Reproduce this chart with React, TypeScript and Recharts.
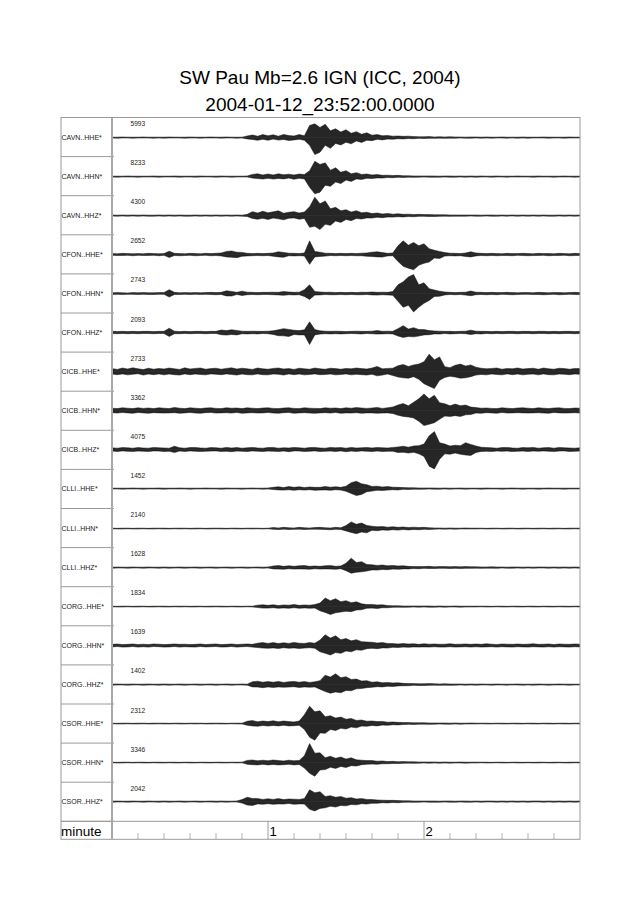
import React from 'react';
import { ComposedChart, Area, XAxis, YAxis, ReferenceLine } from 'recharts';

// sample times (seconds after 23:52:00)
const TIMES = [
  0, 2, 4, 6, 8, 10, 12, 14, 16, 18,
  20, 22, 24, 26, 28, 30, 32, 34, 36, 38,
  40, 42, 44, 46, 48, 50, 52, 54, 56, 58,
  60, 62, 64, 66, 68, 70, 72, 74, 76, 78,
  80, 82, 84, 86, 88, 90, 92, 94, 96, 98,
  100, 102, 104, 106, 108, 110, 112, 114, 116, 118,
  120, 122, 124, 126, 128, 130, 132, 134, 136, 138,
  140, 142, 144, 146, 148, 150, 152, 154, 156, 158,
  160, 162, 164, 166, 168, 170, 172, 174, 176, 178,
  180,
];

const STATIONS = [
  'CAVN..HHE*', 'CAVN..HHN*', 'CAVN..HHZ*',
  'CFON..HHE*', 'CFON..HHN*', 'CFON..HHZ*',
  'CICB..HHE*', 'CICB..HHN*', 'CICB..HHZ*',
  'CLLI..HHE*', 'CLLI..HHN*', 'CLLI..HHZ*',
  'CORG..HHE*', 'CORG..HHN*', 'CORG..HHZ*',
  'CSOR..HHE*', 'CSOR..HHN*', 'CSOR..HHZ*',
];

const PEAK_COUNTS = [
  '5993', '8233', '4300',
  '2652', '2743', '2093',
  '2733', '3362', '4075',
  '1452', '2140', '1628',
  '1834', '1639', '1402',
  '2312', '3346', '2042',
];

// upper (UP) and lower (DN) envelope of each trace, percent of half trace height
const CAVN_HHE_UP = [
  2, 2, 3, 2, 2, 2, 3, 2, 2, 2,
  2, 3, 2, 2, 2, 3, 2, 2, 2, 3,
  2, 2, 3, 2, 2, 2, 8, 13, 7, 15,
  9, 14, 7, 16, 10, 8, 15, 9, 62, 70,
  52, 68, 35, 45, 28, 40, 22, 30, 17, 24,
  12, 15, 9, 11, 7, 8, 6, 7, 5, 4,
  4, 5, 3, 4, 3, 4, 3, 3, 2, 3,
  3, 2, 3, 2, 2, 3, 2, 2, 2, 3,
  2, 2, 2, 3, 2, 2, 2, 2, 3, 2,
  2,
];
const CAVN_HHE_DN = [
  2, 3, 2, 2, 3, 2, 2, 2, 3, 2,
  3, 2, 2, 2, 3, 2, 2, 3, 2, 2,
  2, 3, 2, 2, 3, 2, 7, 10, 14, 9,
  14, 8, 13, 10, 15, 12, 9, 14, 40, 87,
  75, 40, 55, 30, 38, 24, 32, 18, 25, 14,
  16, 9, 12, 8, 9, 6, 7, 5, 6, 4,
  5, 4, 4, 3, 4, 3, 3, 2, 3, 3,
  2, 3, 2, 3, 2, 2, 3, 2, 3, 2,
  3, 2, 2, 2, 3, 2, 2, 3, 2, 2,
  2,
];
const CAVN_HHN_UP = [
  2, 2, 2, 3, 2, 2, 2, 2, 3, 2,
  2, 2, 3, 2, 2, 2, 2, 3, 2, 2,
  2, 3, 2, 2, 2, 2, 3, 11, 14, 8,
  13, 8, 14, 9, 12, 8, 13, 10, 30, 78,
  62, 70, 32, 45, 22, 30, 14, 20, 11, 13,
  8, 10, 6, 7, 5, 6, 4, 4, 3, 3,
  3, 3, 3, 2, 3, 3, 2, 3, 2, 3,
  2, 3, 2, 2, 3, 2, 2, 2, 3, 2,
  2, 2, 3, 2, 2, 2, 2, 3, 2, 2,
  2,
];
const CAVN_HHN_DN = [
  2, 3, 2, 2, 2, 3, 2, 2, 2, 3,
  2, 2, 2, 3, 2, 2, 3, 2, 2, 2,
  3, 2, 2, 3, 2, 2, 2, 8, 10, 13,
  9, 13, 10, 12, 8, 14, 9, 12, 55, 88,
  80, 45, 50, 28, 36, 18, 25, 12, 15, 9,
  10, 7, 8, 5, 6, 4, 5, 3, 4, 3,
  2, 3, 3, 3, 2, 3, 3, 2, 3, 2,
  3, 2, 2, 3, 2, 2, 3, 2, 2, 2,
  2, 3, 2, 2, 2, 3, 2, 2, 2, 3,
  2,
];
const CAVN_HHZ_UP = [
  3, 2, 3, 2, 3, 2, 3, 2, 2, 3,
  2, 3, 2, 3, 2, 2, 3, 2, 3, 2,
  3, 2, 3, 2, 3, 2, 6, 20, 13, 22,
  14, 19, 24, 12, 17, 20, 13, 18, 45, 94,
  60, 75, 35, 42, 24, 30, 18, 25, 14, 17,
  10, 13, 8, 11, 7, 9, 6, 7, 5, 6,
  5, 5, 4, 4, 4, 3, 3, 3, 3, 3,
  3, 2, 3, 3, 2, 3, 2, 3, 2, 3,
  2, 3, 2, 3, 2, 2, 3, 2, 3, 2,
  3,
];
const CAVN_HHZ_DN = [
  2, 3, 2, 3, 2, 3, 2, 3, 3, 2,
  3, 2, 3, 2, 3, 3, 2, 3, 2, 3,
  2, 3, 2, 3, 2, 3, 5, 15, 19, 14,
  20, 13, 17, 22, 14, 12, 19, 15, 60, 55,
  72, 45, 50, 28, 35, 20, 26, 15, 18, 12,
  13, 9, 11, 8, 8, 6, 7, 5, 6, 4,
  4, 5, 5, 4, 3, 4, 3, 3, 3, 2,
  3, 3, 2, 3, 3, 2, 3, 2, 3, 2,
  3, 2, 3, 2, 3, 3, 2, 3, 2, 3,
  2,
];
const CFON_HHE_UP = [
  5, 4, 6, 5, 4, 5, 4, 6, 5, 4,
  5, 17, 6, 5, 4, 6, 5, 4, 6, 5,
  6, 8, 16, 18, 12, 11, 6, 5, 6, 5,
  6, 8, 14, 11, 7, 6, 5, 8, 70, 16,
  12, 7, 6, 5, 6, 5, 6, 5, 7, 8,
  12, 14, 10, 6, 8, 45, 70, 48, 62, 45,
  55, 30, 22, 16, 10, 7, 6, 5, 8, 14,
  8, 6, 5, 6, 5, 4, 6, 5, 5, 6,
  5, 4, 6, 5, 5, 4, 6, 5, 4, 6,
  5,
];
const CFON_HHE_DN = [
  4, 5, 5, 4, 6, 4, 5, 5, 4, 6,
  4, 15, 5, 6, 5, 4, 6, 5, 4, 6,
  5, 7, 12, 14, 16, 9, 7, 6, 5, 6,
  5, 9, 12, 14, 6, 7, 6, 7, 50, 12,
  10, 8, 5, 6, 5, 6, 5, 6, 6, 9,
  10, 12, 13, 7, 6, 35, 60, 70, 78, 55,
  45, 38, 18, 20, 8, 6, 7, 6, 10, 12,
  7, 5, 6, 5, 6, 5, 5, 6, 4, 5,
  6, 5, 5, 4, 6, 5, 5, 4, 6, 5,
  5,
];
const CFON_HHN_UP = [
  4, 5, 4, 3, 5, 4, 5, 4, 4, 5,
  5, 20, 6, 4, 5, 4, 5, 4, 5, 6,
  5, 6, 14, 11, 6, 12, 7, 6, 5, 6,
  6, 7, 6, 10, 8, 6, 7, 20, 45, 10,
  8, 6, 7, 5, 6, 5, 6, 5, 7, 6,
  8, 6, 7, 6, 10, 45, 60, 85, 97, 45,
  55, 25, 18, 12, 8, 6, 5, 6, 7, 13,
  7, 6, 5, 6, 5, 5, 6, 5, 4, 5,
  5, 4, 6, 5, 4, 5, 5, 4, 5, 6,
  5,
];
const CFON_HHN_DN = [
  5, 4, 5, 4, 4, 5, 4, 5, 5, 4,
  4, 18, 5, 5, 4, 5, 4, 5, 4, 5,
  6, 5, 12, 13, 5, 10, 6, 5, 6, 5,
  5, 6, 7, 9, 6, 7, 6, 15, 30, 8,
  7, 5, 6, 6, 5, 6, 5, 6, 6, 5,
  7, 8, 6, 7, 9, 40, 70, 60, 94, 70,
  50, 35, 15, 14, 7, 5, 6, 5, 8, 11,
  6, 5, 6, 5, 6, 4, 5, 6, 5, 4,
  4, 5, 5, 6, 5, 4, 6, 5, 4, 5,
  5,
];
const CFON_HHZ_UP = [
  6, 5, 6, 5, 6, 5, 6, 6, 5, 6,
  6, 22, 7, 5, 6, 5, 6, 6, 5, 6,
  6, 13, 10, 14, 11, 7, 6, 7, 6, 6,
  7, 9, 14, 20, 16, 12, 10, 14, 55, 15,
  9, 7, 6, 7, 6, 5, 6, 7, 6, 6,
  7, 10, 6, 7, 6, 20, 35, 18, 25, 16,
  15, 10, 8, 7, 6, 6, 5, 6, 7, 12,
  7, 6, 6, 5, 6, 5, 6, 6, 5, 6,
  6, 5, 6, 6, 5, 6, 5, 6, 6, 5,
  6,
];
const CFON_HHZ_DN = [
  5, 6, 5, 6, 5, 6, 5, 5, 6, 5,
  5, 20, 6, 6, 5, 6, 5, 5, 6, 5,
  5, 11, 13, 10, 12, 6, 7, 6, 7, 5,
  6, 10, 16, 17, 20, 10, 12, 12, 61, 12,
  8, 6, 7, 6, 7, 6, 5, 6, 7, 5,
  6, 8, 7, 6, 7, 18, 25, 20, 22, 18,
  12, 11, 7, 8, 5, 7, 6, 5, 6, 10,
  6, 7, 5, 6, 5, 6, 5, 5, 6, 5,
  5, 6, 5, 5, 6, 5, 6, 5, 5, 6,
  5,
];
const CICB_HHE_UP = [
  15, 11, 18, 13, 19, 14, 10, 17, 12, 16,
  13, 18, 14, 11, 19, 13, 16, 18, 12, 15,
  17, 12, 16, 19, 13, 17, 14, 11, 18, 14,
  12, 16, 18, 13, 15, 11, 17, 14, 12, 18,
  14, 12, 17, 15, 12, 16, 14, 18, 15, 13,
  18, 26, 14, 16, 17, 30, 36, 26, 34, 38,
  50, 89, 60, 75, 25, 20, 32, 38, 28, 34,
  22, 17, 14, 16, 18, 12, 16, 14, 18, 13,
  15, 17, 12, 18, 14, 12, 17, 15, 12, 16,
  15,
];
const CICB_HHE_DN = [
  13, 16, 12, 17, 14, 11, 18, 13, 16, 12,
  17, 13, 16, 18, 12, 16, 13, 15, 17, 12,
  14, 16, 12, 15, 18, 13, 16, 17, 12, 16,
  17, 13, 14, 18, 12, 16, 13, 17, 15, 12,
  16, 15, 13, 17, 15, 12, 17, 14, 16, 18,
  14, 22, 18, 13, 20, 28, 32, 34, 26, 40,
  62, 75, 87, 45, 30, 24, 28, 34, 32, 26,
  18, 15, 17, 13, 15, 17, 12, 16, 13, 17,
  14, 13, 17, 12, 16, 17, 13, 14, 16, 13,
  14,
];
const CICB_HHN_UP = [
  12, 10, 14, 12, 10, 14, 11, 13, 10, 14,
  12, 10, 16, 12, 10, 14, 12, 10, 13, 14,
  11, 10, 14, 12, 13, 10, 14, 12, 10, 13,
  14, 11, 10, 13, 14, 11, 10, 14, 12, 11,
  10, 14, 12, 13, 10, 14, 12, 15, 13, 11,
  13, 16, 11, 14, 18, 28, 36, 24, 42, 60,
  85, 60, 78, 40, 35, 24, 33, 25, 28, 18,
  15, 12, 13, 11, 10, 14, 12, 10, 13, 14,
  12, 10, 14, 12, 10, 13, 14, 11, 10, 13,
  12,
];
const CICB_HHN_DN = [
  11, 13, 10, 12, 14, 10, 12, 14, 11, 12,
  13, 12, 11, 14, 12, 10, 13, 14, 11, 10,
  13, 12, 11, 13, 10, 14, 12, 11, 13, 12,
  10, 13, 14, 11, 10, 14, 12, 11, 13, 14,
  12, 11, 13, 10, 14, 12, 13, 11, 14, 12,
  12, 14, 13, 12, 15, 24, 30, 33, 38, 55,
  77, 70, 62, 45, 28, 30, 26, 30, 22, 20,
  13, 14, 11, 12, 14, 10, 13, 12, 11, 12,
  13, 12, 11, 13, 14, 10, 12, 13, 12, 11,
  13,
];
const CICB_HHZ_UP = [
  9, 7, 10, 9, 7, 10, 8, 7, 11, 9,
  8, 7, 17, 9, 7, 10, 11, 8, 7, 10,
  9, 7, 11, 8, 10, 7, 9, 11, 8, 7,
  10, 11, 7, 9, 8, 11, 9, 7, 10, 11,
  8, 7, 11, 9, 10, 7, 11, 8, 9, 11,
  8, 11, 9, 8, 11, 13, 17, 12, 18, 20,
  28, 70, 92, 35, 28, 18, 22, 20, 35, 26,
  18, 12, 10, 9, 7, 10, 11, 8, 7, 10,
  9, 11, 7, 9, 10, 7, 11, 9, 8, 7,
  9,
];
const CICB_HHZ_DN = [
  8, 10, 7, 9, 10, 8, 9, 10, 7, 8,
  10, 9, 15, 8, 10, 7, 9, 10, 9, 8,
  7, 10, 9, 11, 8, 9, 10, 7, 9, 10,
  8, 9, 10, 8, 11, 7, 8, 10, 9, 7,
  10, 9, 8, 10, 7, 11, 8, 10, 7, 9,
  10, 8, 10, 9, 9, 15, 14, 18, 14, 22,
  35, 85, 99, 50, 22, 24, 18, 24, 28, 30,
  15, 10, 9, 10, 8, 9, 8, 10, 9, 8,
  10, 8, 9, 7, 9, 10, 8, 7, 10, 9,
  8,
];
const CLLI_HHE_UP = [
  2, 2, 2, 2, 3, 2, 2, 2, 2, 3,
  2, 2, 2, 3, 2, 2, 2, 2, 3, 2,
  2, 2, 3, 2, 2, 2, 2, 3, 2, 2,
  3, 6, 9, 5, 10, 6, 9, 5, 8, 6,
  6, 10, 7, 9, 6, 12, 30, 37, 24, 20,
  11, 12, 8, 10, 7, 6, 5, 4, 4, 3,
  3, 3, 3, 2, 3, 2, 2, 3, 2, 2,
  2, 2, 3, 2, 2, 2, 2, 3, 2, 2,
  2, 2, 2, 2, 3, 2, 2, 2, 2, 2,
  2,
];
const CLLI_HHE_DN = [
  2, 2, 3, 2, 2, 2, 3, 2, 2, 2,
  3, 2, 2, 2, 2, 3, 2, 2, 2, 2,
  2, 3, 2, 2, 2, 3, 2, 2, 2, 3,
  2, 5, 7, 8, 6, 9, 6, 8, 6, 9,
  8, 7, 9, 6, 8, 14, 25, 36, 30, 16,
  13, 9, 10, 8, 6, 7, 4, 5, 3, 4,
  3, 2, 3, 3, 2, 3, 2, 2, 3, 2,
  2, 3, 2, 2, 2, 3, 2, 2, 2, 3,
  2, 2, 3, 2, 2, 2, 2, 3, 2, 2,
  2,
];
const CLLI_HHN_UP = [
  2, 1, 2, 2, 1, 2, 2, 1, 2, 2,
  2, 1, 2, 2, 2, 1, 2, 2, 1, 2,
  2, 2, 1, 2, 2, 1, 2, 2, 2, 1,
  2, 5, 3, 6, 4, 3, 6, 4, 3, 5,
  6, 4, 3, 6, 4, 15, 34, 22, 28, 16,
  12, 9, 10, 7, 9, 6, 8, 5, 7, 5,
  6, 4, 3, 3, 2, 3, 2, 2, 3, 2,
  2, 2, 1, 2, 2, 1, 2, 2, 1, 2,
  2, 1, 2, 2, 1, 2, 2, 1, 2, 2,
  2,
];
const CLLI_HHN_DN = [
  1, 2, 2, 1, 2, 2, 1, 2, 2, 1,
  2, 2, 1, 2, 1, 2, 2, 1, 2, 2,
  1, 2, 2, 1, 2, 2, 1, 2, 1, 2,
  1, 4, 5, 3, 5, 4, 3, 5, 4, 3,
  4, 5, 6, 4, 5, 12, 20, 26, 18, 22,
  9, 11, 7, 9, 6, 8, 5, 7, 5, 6,
  4, 5, 3, 2, 3, 2, 3, 2, 2, 2,
  2, 1, 2, 2, 1, 2, 2, 1, 2, 2,
  1, 2, 2, 1, 2, 2, 1, 2, 2, 1,
  2,
];
const CLLI_HHZ_UP = [
  2, 3, 2, 2, 3, 2, 2, 3, 2, 2,
  3, 2, 2, 3, 2, 2, 3, 2, 2, 3,
  2, 2, 3, 2, 2, 3, 2, 2, 3, 2,
  3, 8, 10, 6, 9, 6, 9, 10, 6, 8,
  6, 9, 10, 6, 8, 22, 48, 26, 30, 16,
  14, 11, 13, 9, 11, 8, 9, 6, 5, 5,
  5, 6, 4, 5, 5, 4, 5, 4, 5, 4,
  4, 3, 3, 4, 3, 3, 2, 3, 3, 2,
  3, 2, 3, 3, 2, 3, 2, 3, 2, 3,
  2,
];
const CLLI_HHZ_DN = [
  3, 2, 2, 3, 2, 2, 3, 2, 2, 3,
  2, 3, 2, 2, 3, 2, 2, 3, 2, 2,
  3, 2, 2, 3, 2, 2, 3, 2, 2, 3,
  2, 7, 8, 9, 6, 8, 7, 8, 9, 6,
  8, 7, 8, 9, 6, 16, 29, 24, 22, 18,
  12, 13, 10, 11, 8, 9, 7, 7, 5, 6,
  4, 5, 5, 4, 4, 5, 4, 5, 4, 4,
  3, 4, 3, 3, 4, 2, 3, 3, 2, 3,
  2, 3, 2, 2, 3, 2, 3, 2, 3, 2,
  3,
];
const CORG_HHE_UP = [
  2, 1, 2, 2, 1, 2, 2, 1, 2, 2,
  2, 1, 2, 2, 2, 1, 2, 2, 1, 2,
  2, 2, 1, 2, 2, 1, 2, 2, 7, 9,
  6, 9, 5, 8, 7, 10, 6, 8, 7, 10,
  18, 44, 30, 40, 25, 30, 20, 24, 14, 10,
  11, 8, 9, 5, 4, 4, 3, 3, 3, 3,
  3, 3, 2, 3, 2, 2, 3, 2, 2, 2,
  2, 2, 2, 1, 2, 2, 1, 2, 2, 1,
  2, 2, 1, 2, 2, 1, 2, 2, 1, 2,
  2,
];
const CORG_HHE_DN = [
  1, 2, 2, 1, 2, 2, 1, 2, 2, 1,
  2, 2, 1, 2, 1, 2, 2, 1, 2, 2,
  1, 2, 2, 1, 2, 2, 1, 2, 5, 8,
  8, 6, 9, 7, 9, 6, 9, 7, 9, 8,
  22, 30, 41, 32, 28, 24, 26, 18, 16, 9,
  8, 10, 6, 6, 4, 3, 4, 3, 2, 3,
  2, 3, 3, 2, 3, 2, 2, 3, 2, 2,
  2, 1, 2, 2, 1, 2, 2, 1, 2, 2,
  1, 2, 2, 1, 2, 2, 1, 2, 2, 1,
  2,
];
const CORG_HHN_UP = [
  6, 8, 5, 6, 8, 5, 7, 5, 8, 7,
  5, 6, 8, 6, 7, 5, 6, 8, 5, 7,
  8, 5, 6, 8, 5, 7, 8, 6, 12, 15,
  11, 15, 10, 14, 11, 16, 12, 11, 15, 12,
  28, 55, 38, 50, 30, 36, 24, 30, 20, 18,
  17, 13, 15, 11, 10, 8, 10, 8, 9, 6,
  9, 7, 8, 6, 7, 9, 6, 7, 8, 6,
  8, 6, 9, 7, 5, 8, 7, 6, 8, 6,
  7, 9, 6, 7, 8, 5, 8, 7, 6, 8,
  7,
];
const CORG_HHN_DN = [
  7, 5, 8, 7, 5, 8, 6, 8, 5, 6,
  8, 7, 5, 8, 6, 7, 8, 5, 7, 6,
  5, 8, 7, 5, 8, 6, 5, 8, 10, 13,
  14, 12, 15, 11, 14, 12, 15, 13, 11, 14,
  32, 40, 48, 36, 40, 28, 32, 22, 24, 16,
  14, 16, 12, 13, 9, 10, 8, 9, 7, 8,
  7, 8, 6, 8, 8, 6, 8, 7, 6, 8,
  6, 8, 7, 6, 8, 6, 7, 8, 6, 7,
  8, 6, 7, 8, 6, 8, 6, 7, 8, 6,
  7,
];
const CORG_HHZ_UP = [
  2, 3, 2, 2, 3, 2, 2, 3, 2, 2,
  3, 2, 2, 3, 2, 2, 3, 2, 2, 3,
  2, 2, 3, 2, 2, 3, 2, 14, 17, 12,
  15, 12, 16, 11, 14, 16, 12, 15, 11, 14,
  20, 48, 38, 55, 35, 40, 26, 28, 18, 20,
  12, 14, 9, 11, 8, 9, 6, 5, 5, 4,
  4, 5, 4, 3, 4, 3, 3, 3, 2, 3,
  2, 3, 2, 2, 3, 2, 2, 2, 3, 2,
  2, 2, 3, 2, 2, 2, 3, 2, 2, 2,
  2,
];
const CORG_HHZ_DN = [
  3, 2, 2, 3, 2, 2, 3, 2, 2, 3,
  2, 3, 2, 2, 3, 2, 2, 3, 2, 2,
  3, 2, 2, 3, 2, 2, 3, 12, 13, 16,
  12, 15, 12, 14, 13, 11, 15, 12, 14, 12,
  24, 36, 44, 38, 42, 30, 32, 22, 20, 16,
  14, 11, 12, 9, 10, 7, 6, 6, 4, 5,
  5, 4, 3, 4, 3, 4, 3, 2, 3, 2,
  3, 2, 2, 3, 2, 2, 3, 2, 2, 3,
  2, 3, 2, 2, 3, 2, 2, 2, 3, 2,
  2,
];
const CSOR_HHE_UP = [
  2, 1, 2, 2, 1, 2, 2, 1, 2, 2,
  2, 1, 2, 2, 1, 2, 2, 2, 1, 2,
  2, 2, 1, 2, 2, 2, 12, 15, 9, 13,
  10, 14, 9, 13, 10, 8, 13, 45, 89, 60,
  65, 35, 40, 28, 33, 22, 26, 16, 18, 12,
  13, 10, 11, 7, 8, 6, 5, 5, 4, 4,
  4, 3, 3, 3, 3, 2, 3, 2, 2, 3,
  2, 2, 2, 1, 2, 2, 1, 2, 2, 1,
  2, 2, 1, 2, 2, 1, 2, 2, 1, 2,
  2,
];
const CSOR_HHE_DN = [
  1, 2, 2, 1, 2, 2, 1, 2, 2, 1,
  2, 2, 1, 2, 2, 1, 2, 1, 2, 2,
  1, 2, 2, 1, 2, 2, 9, 12, 14, 10,
  13, 10, 12, 9, 12, 11, 9, 30, 70, 85,
  48, 50, 30, 36, 24, 28, 18, 22, 13, 14,
  10, 12, 8, 9, 6, 7, 5, 4, 5, 3,
  3, 4, 3, 2, 3, 3, 2, 3, 2, 2,
  2, 1, 2, 2, 1, 2, 2, 1, 2, 2,
  1, 2, 2, 1, 2, 2, 1, 2, 2, 1,
  2,
];
const CSOR_HHN_UP = [
  2, 1, 2, 2, 1, 2, 2, 1, 2, 2,
  1, 2, 2, 1, 2, 2, 1, 2, 2, 1,
  2, 2, 1, 2, 2, 2, 11, 13, 9, 12,
  9, 13, 10, 8, 12, 9, 11, 35, 97, 48,
  50, 25, 32, 22, 28, 18, 24, 14, 12, 10,
  10, 7, 8, 5, 6, 4, 5, 4, 4, 3,
  3, 3, 3, 2, 3, 2, 2, 3, 2, 2,
  2, 2, 2, 1, 2, 2, 1, 2, 2, 1,
  2, 1, 2, 2, 1, 2, 2, 1, 2, 2,
  2,
];
const CSOR_HHN_DN = [
  1, 2, 2, 1, 2, 1, 2, 2, 1, 2,
  2, 1, 2, 2, 1, 2, 2, 1, 2, 2,
  1, 2, 2, 1, 2, 1, 9, 11, 12, 9,
  12, 10, 12, 11, 9, 12, 10, 28, 55, 70,
  38, 36, 24, 30, 20, 25, 16, 18, 11, 9,
  8, 9, 6, 6, 5, 5, 4, 3, 4, 3,
  2, 3, 2, 3, 2, 3, 2, 2, 3, 2,
  2, 1, 2, 2, 1, 2, 2, 1, 2, 2,
  1, 2, 2, 1, 2, 2, 1, 2, 2, 1,
  2,
];
const CSOR_HHZ_UP = [
  2, 3, 2, 2, 3, 2, 2, 3, 2, 2,
  3, 2, 2, 3, 2, 2, 3, 2, 2, 3,
  2, 3, 2, 2, 3, 10, 22, 16, 15, 11,
  14, 11, 15, 10, 13, 12, 11, 15, 60, 45,
  50, 26, 30, 22, 26, 17, 20, 13, 15, 11,
  10, 8, 7, 6, 6, 5, 4, 4, 3, 3,
  3, 3, 3, 2, 3, 3, 2, 3, 3, 2,
  3, 2, 3, 3, 2, 3, 2, 3, 2, 3,
  2, 3, 3, 2, 3, 2, 3, 2, 3, 2,
  3,
];
const CSOR_HHZ_DN = [
  3, 2, 2, 3, 2, 2, 3, 2, 2, 3,
  2, 3, 2, 2, 3, 2, 2, 3, 2, 2,
  3, 2, 3, 2, 2, 8, 18, 20, 12, 14,
  11, 14, 12, 13, 10, 14, 12, 13, 40, 48,
  35, 32, 24, 28, 20, 22, 15, 17, 11, 13,
  9, 9, 6, 7, 5, 6, 4, 3, 4, 3,
  2, 3, 3, 3, 2, 3, 3, 2, 3, 3,
  2, 3, 2, 2, 3, 2, 3, 2, 3, 2,
  3, 2, 2, 3, 2, 3, 2, 3, 2, 3,
  2,
];

const TRACES_UP = [
  CAVN_HHE_UP, CAVN_HHN_UP, CAVN_HHZ_UP,
  CFON_HHE_UP, CFON_HHN_UP, CFON_HHZ_UP,
  CICB_HHE_UP, CICB_HHN_UP, CICB_HHZ_UP,
  CLLI_HHE_UP, CLLI_HHN_UP, CLLI_HHZ_UP,
  CORG_HHE_UP, CORG_HHN_UP, CORG_HHZ_UP,
  CSOR_HHE_UP, CSOR_HHN_UP, CSOR_HHZ_UP,
];
const TRACES_DN = [
  CAVN_HHE_DN, CAVN_HHN_DN, CAVN_HHZ_DN,
  CFON_HHE_DN, CFON_HHN_DN, CFON_HHZ_DN,
  CICB_HHE_DN, CICB_HHN_DN, CICB_HHZ_DN,
  CLLI_HHE_DN, CLLI_HHN_DN, CLLI_HHZ_DN,
  CORG_HHE_DN, CORG_HHN_DN, CORG_HHZ_DN,
  CSOR_HHE_DN, CSOR_HHN_DN, CSOR_HHZ_DN,
];

// axis ticks every 10 s, labelled at whole minutes
const AXIS_TICKS = [10, 20, 30, 40, 50, 60, 70, 80, 90, 100, 110, 120, 130, 140, 150, 160, 170];

const TITLE = 'SW Pau Mb=2.6 IGN (ICC, 2004)';
const SUBTITLE = '2004-01-12_23:52:00.0000';

// layout
const BOX_LEFT = 61;
const PLOT_LEFT = 112;
const PLOT_RIGHT = 580;
const PLOT_W = PLOT_RIGHT - PLOT_LEFT;
const TOP = 117.5;
const ROW_H = 39.1;
const AXIS_TOP = TOP + ROW_H * 18;
const AXIS_H = 18;
const FONT = '"Liberation Sans", Arial, Helvetica, sans-serif';
const FRAME = '#9a9a9a';

function TraceRow({ up, dn, index }: { up: number[]; dn: number[]; index: number }) {
  const data = TIMES.map((t, k) => ({ t, band: [-dn[k], up[k]] }));
  return (
    <div style={{ position: 'absolute', left: PLOT_LEFT, top: TOP + index * ROW_H, width: PLOT_W, height: ROW_H }}>
      <ComposedChart width={PLOT_W} height={ROW_H} data={data} margin={{ top: 0, right: 0, bottom: 0, left: 0 }}>
        <XAxis dataKey="t" type="number" domain={[0, 180]} hide />
        <YAxis type="number" domain={[-100, 100]} hide allowDataOverflow />
        <ReferenceLine y={0} stroke="#333" strokeWidth={0.7} />
        <Area
          type="linear"
          dataKey="band"
          stroke="#111"
          strokeWidth={0.5}
          fill="#000"
          fillOpacity={0.85}
          isAnimationActive={false}
          dot={false}
          activeDot={false}
        />
      </ComposedChart>
    </div>
  );
}

function MinuteTick(props: any) {
  const { x, payload } = props;
  const v = payload.value as number;
  const major = v % 60 === 0;
  const base = AXIS_H; // top of the axis band inside this chart
  return (
    <g>
      {major ? (
        <line x1={x} x2={x} y1={base} y2={base + AXIS_H} stroke={FRAME} strokeWidth={1} />
      ) : (
        <line x1={x} x2={x} y1={base + AXIS_H - 6} y2={base + AXIS_H} stroke="#b0b0b0" strokeWidth={1} />
      )}
      {major ? (
        <text x={x + 1.5} y={base + 15} fontSize={13} fontFamily={FONT} fill="#000">
          {String(v / 60)}
        </text>
      ) : null}
    </g>
  );
}

function AxisRow() {
  const data = TIMES.map((t) => ({ t }));
  return (
    <div style={{ position: 'absolute', left: PLOT_LEFT, top: AXIS_TOP - AXIS_H, width: PLOT_W, height: AXIS_H * 2 }}>
      <ComposedChart width={PLOT_W} height={AXIS_H * 2} data={data} margin={{ top: 0, right: 0, bottom: 0, left: 0 }}>
        <XAxis
          dataKey="t"
          type="number"
          domain={[0, 180]}
          ticks={AXIS_TICKS}
          interval={0}
          height={AXIS_H}
          axisLine={false}
          tickLine={false}
          tick={<MinuteTick />}
        />
        <YAxis hide domain={[0, 1]} />
      </ComposedChart>
    </div>
  );
}

export default function App() {
  return (
    <div style={{ position: 'absolute', left: 0, top: 0, width: 640, height: 905, background: '#fff' }}>
      {TRACES_UP.map((up, i) => (
        <TraceRow key={STATIONS[i]} up={up} dn={TRACES_DN[i]} index={i} />
      ))}
      <AxisRow />
      <svg
        width={640}
        height={905}
        style={{ position: 'absolute', left: 0, top: 0, pointerEvents: 'none' }}
      >
        <text x={320} y={84} textAnchor="middle" fontSize={19} fontFamily={FONT} fill="#000">
          {TITLE}
        </text>
        <text x={320} y={110.5} textAnchor="middle" fontSize={19} fontFamily={FONT} fill="#000">
          {SUBTITLE}
        </text>
        <rect x={BOX_LEFT} y={TOP} width={PLOT_RIGHT - BOX_LEFT} height={AXIS_TOP + AXIS_H - TOP} fill="none" stroke={FRAME} strokeWidth={1} />
        {STATIONS.map((s, i) => (
          <line
            key={'sep' + s}
            x1={BOX_LEFT}
            x2={PLOT_LEFT + 2}
            y1={TOP + (i + 1) * ROW_H}
            y2={TOP + (i + 1) * ROW_H}
            stroke={FRAME}
            strokeWidth={1}
          />
        ))}
        <line x1={BOX_LEFT} x2={PLOT_RIGHT} y1={AXIS_TOP} y2={AXIS_TOP} stroke={FRAME} strokeWidth={1} />
        <line x1={PLOT_LEFT} x2={PLOT_LEFT} y1={TOP} y2={AXIS_TOP + AXIS_H} stroke="#a8a8a8" strokeWidth={2} />
        {STATIONS.map((s, i) => (
          <text
            key={'lab' + s}
            x={BOX_LEFT + 0.5}
            y={TOP + i * ROW_H + ROW_H / 2 + 2.5}
            fontSize={7}
            fontFamily={FONT}
            fill="#222"
          >
            {s}
          </text>
        ))}
        {PEAK_COUNTS.map((c, i) => (
          <text
            key={'pk' + i}
            x={130.5}
            y={TOP + i * ROW_H + 8.5}
            fontSize={6.6}
            fontFamily={FONT}
            fill="#222"
          >
            {c}
          </text>
        ))}
        <text x={BOX_LEFT} y={836} fontSize={13.5} fontFamily={FONT} fill="#000">
          minute
        </text>
      </svg>
    </div>
  );
}
